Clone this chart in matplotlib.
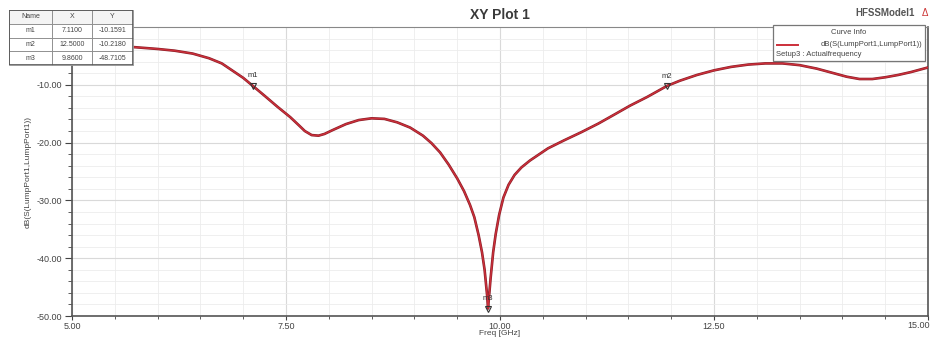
import numpy as np
import matplotlib.pyplot as plt
from matplotlib.patches import Rectangle
from matplotlib.lines import Line2D
from matplotlib.ticker import MultipleLocator, FormatStrFormatter

# ---- data ----
freq = [5.0, 5.3, 5.74, 6.0, 6.2, 6.41, 6.6, 6.75, 6.85, 7.0, 7.11, 7.25, 7.4, 7.55,
        7.65, 7.72, 7.8, 7.88, 7.95, 8.05, 8.2, 8.35, 8.5, 8.65, 8.8, 8.95, 9.1, 9.2,
        9.3, 9.4, 9.5, 9.58, 9.65, 9.7, 9.75, 9.79, 9.82, 9.85, 9.86, 9.87, 9.89,
        9.92, 9.95, 9.99, 10.04, 10.1, 10.17, 10.25, 10.35, 10.45, 10.56, 10.75,
        10.95, 11.15, 11.33, 11.52, 11.72, 11.95, 12.1, 12.3, 12.5, 12.7, 12.9, 13.1,
        13.3, 13.5, 13.7, 13.9, 14.05, 14.2, 14.35, 14.5, 14.65, 14.8, 15.0]
s11 = [-3.0, -3.1, -3.5, -3.8, -4.1, -4.6, -5.4, -6.3, -7.3, -8.8, -10.16, -11.9,
       -13.8, -15.6, -17.0, -18.0, -18.7, -18.8, -18.5, -17.8, -16.8, -16.1, -15.8,
       -15.9, -16.5, -17.4, -18.8, -20.1, -21.7, -23.8, -26.2, -28.4, -30.8, -32.9,
       -36.0, -39.0, -42.0, -46.5, -48.71, -47.0, -43.5, -39.0, -35.8, -32.5, -29.5,
       -27.3, -25.6, -24.3, -23.1, -22.1, -21.0, -19.6, -18.2, -16.7, -15.2, -13.6,
       -12.1, -10.2, -9.3, -8.3, -7.5, -6.9, -6.5, -6.3, -6.3, -6.6, -7.2, -8.0,
       -8.6, -9.0, -9.0, -8.7, -8.3, -7.8, -7.0]

x_ticks = [5.0, 7.5, 10.0, 12.5, 15.0]
y_ticks = [-50, -40, -30, -20, -10]

marker_names = ["m1", "m2", "m3"]
marker_x = [7.11, 11.95, 9.86]
marker_y = [-10.16, -10.2, -48.71]
table_rows = [["m1", "7.1100", "-10.1591"],
              ["m2", "12.5000", "-10.2180"],
              ["m3", "9.8600", "-48.7105"]]

CURVE = "#cc2f3a"
TXT = "#444444"
W, H = 931, 338

fig = plt.figure(figsize=(W / 100, H / 100), dpi=100)
fig.patch.set_facecolor("white")
plt.rcParams["font.family"] = ["Liberation Sans", "DejaVu Sans"]

ax = fig.add_axes([72 / W, 1 - 316 / H, (928 - 72) / W, (316 - 27) / H])
ax.plot(freq, s11, color="#8a1f28", lw=1.9, zorder=3, solid_joinstyle="round")
ax.plot(freq, s11, color=CURVE, lw=1.0, zorder=4, solid_joinstyle="round")

ax.set_xlim(5, 15)
ax.set_ylim(-50, 0)
# last label is drawn separately, right-aligned so it stays inside the picture
ax.set_xticks(x_ticks, [f"{t:.2f}" for t in x_ticks[:-1]] + [""])
ax.xaxis.set_minor_locator(MultipleLocator(0.5))
ax.set_yticks(y_ticks)
ax.yaxis.set_minor_locator(MultipleLocator(2))
ax.yaxis.set_major_formatter(FormatStrFormatter("%.2f"))
ax.grid(which="major", color="#d9d9d9", lw=0.8)
ax.grid(which="minor", color="#ececec", lw=0.6)
ax.set_axisbelow(True)
ax.tick_params(which="both", labelsize=6.5, colors=TXT, direction="out")
ax.tick_params(axis="y", which="major", length=5, width=0.8, pad=2)
ax.tick_params(axis="y", which="minor", length=3, width=0.6)
ax.tick_params(axis="x", which="major", length=3, width=0.8, pad=1.5)
ax.tick_params(axis="x", which="minor", length=2, width=0.6)
for side in ["left", "bottom", "right"]:
    ax.spines[side].set_color("#555555")
    ax.spines[side].set_linewidth(1.2)
ax.spines["top"].set_color("#888888")
ax.spines["top"].set_linewidth(0.8)

ax.text(1.002, -0.016, f"{x_ticks[-1]:.2f}", transform=ax.transAxes, fontsize=6.5,
        color=TXT, ha="right", va="top")

ax.set_xlabel("Freq [GHz]", fontsize=6, color=TXT, labelpad=-1)
ax.set_ylabel("dB(S(LumpPort1,LumpPort1))", fontsize=6, color=TXT, labelpad=4)

# markers
for name, mx, my in zip(marker_names, marker_x, marker_y):
    ax.plot(mx, my, marker="v", ms=4, mfc="none", mec="#333333", mew=0.8, zorder=5)
    ax.text(mx, my + 1.1, name, fontsize=5.5, color="#333333", ha="center", va="bottom", zorder=6)

# title + model name
fig.text(500 / W, 1 - 15 / H, "XY Plot 1", fontsize=10, fontweight="bold", color="#3a3a3a",
         ha="center", va="center")
fig.text(885 / W, 1 - 13 / H, "HFSSModel1", fontsize=7, fontweight="bold", color="#555555",
         ha="center", va="center")
fig.text(925 / W, 1 - 13 / H, "\u0394", fontsize=7, color="#cc3333", ha="center", va="center")

# curve info box
bx0, by0, bx1, by1 = 773, 25, 925, 61
fig.patches.append(Rectangle((bx0 / W, 1 - by1 / H), (bx1 - bx0) / W, (by1 - by0) / H,
                             transform=fig.transFigure, facecolor="white",
                             edgecolor="#777777", lw=0.9, zorder=10))
fig.text(849 / W, 1 - 32 / H, "Curve Info", fontsize=5.5, color=TXT, ha="center", va="center",
         zorder=11)
fig.lines.append(Line2D([777 / W, 798 / W], [1 - 45 / H, 1 - 45 / H], transform=fig.transFigure,
                        color=CURVE, lw=1.4, zorder=11))
fig.text(922 / W, 1 - 45 / H, "dB(S(LumpPort1,LumpPort1))", fontsize=5.5, color=TXT,
         ha="right", va="center", zorder=11)
fig.text(776 / W, 1 - 54 / H, "Setup3 : Actualfrequency", fontsize=5.5, color=TXT,
         ha="left", va="center", zorder=11)

# marker table
tab_ax = fig.add_axes([9 / W, 1 - 65 / H, (133 - 9) / W, (65 - 10) / H])
tab_ax.axis("off")
tbl = tab_ax.table(cellText=table_rows, colLabels=["Name", "X", "Y"],
                   colWidths=[43, 40, 41], loc="center", bbox=[0, 0, 1, 1],
                   cellLoc="center")
tbl.auto_set_font_size(False)
tbl.set_fontsize(5)
for (r, c), cell in tbl.get_celld().items():
    cell.set_edgecolor("#888888")
    cell.set_linewidth(0.6)
    cell.set_facecolor("#f4f4f4" if r == 0 else "white")
    cell.get_text().set_color(TXT)
tab_ax.add_patch(Rectangle((0, 0), 1, 1, transform=tab_ax.transAxes, fill=False,
                           edgecolor="#555555", lw=1.2))

fig.savefig("out.png", dpi=100)
